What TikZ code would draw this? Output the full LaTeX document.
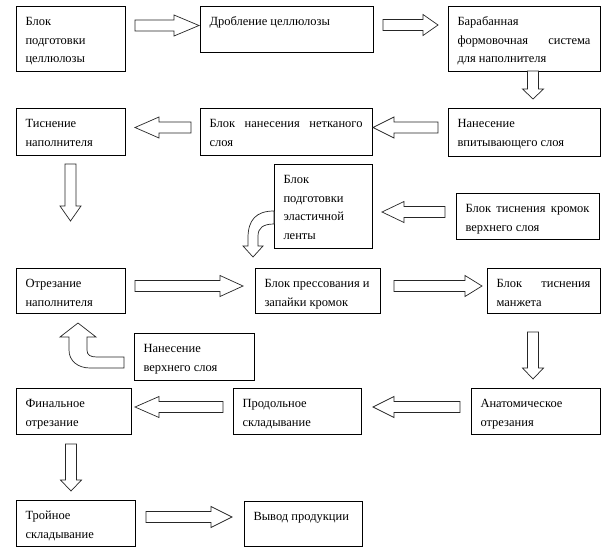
\documentclass[tikz,border=0pt]{standalone}
\usepackage{fontspec}
\setmainfont{Liberation Serif}
\usetikzlibrary{calc}
\tikzset{
  blk/.style={draw, line width=0.8pt, anchor=north west, inner xsep=9.5pt, inner ysep=7pt,
    outer sep=0pt, font=\fontsize{12.5}{18.5}\selectfont},
  arr/.style={draw=black!85, line width=0.7pt, fill=white, line join=miter},
}
\newcommand\blk[6]{\node[blk] (#1) at (#2,#3)
  {\parbox[c][\dimexpr#5pt-14pt\relax][t]{\dimexpr#4pt-19pt\relax}{\raggedright\strut #6}};}
\newcommand\blockarrow[3]{%
  \pgfpointdiff{\pgfpointanchor{#1}{center}}{\pgfpointanchor{#2}{center}}%
  \pgfgetlastxy{\bax}{\bay}%
  \pgfmathsetmacro\barlen{veclen(\bax,\bay)}%
  \pgfmathsetmacro\barang{atan2(\bay,\bax)}%
  \begin{scope}[shift={(#1)},rotate=\barang]
    \draw[arr] (0,5.5) -- ({\barlen-#3},5.5) -- ({\barlen-#3},10.5) -- (\barlen,0)
      -- ({\barlen-#3},-10.5) -- ({\barlen-#3},-5.5) -- (0,-5.5) -- cycle;
  \end{scope}}
\begin{document}
\begin{tikzpicture}[x=1pt,y=-1pt]
\useasboundingbox[fill=white] (0,0) rectangle (612,557);
% boxes
\blk{b1}{16}{6}{109}{65}{Блок\\подготовки\\целлюлозы}
\blk{b2}{200}{6}{173}{46}{Дробление~целлюлозы}
\blk{b3}{448}{6}{152}{65}{Барабанная\\формовочная\hfill система\\для~наполнителя}
\blk{b4}{16}{108}{109}{47}{Тиснение\\наполнителя}
\blk{b5}{200}{108}{172}{47}{Блок\hfill нанесения\hfill нетканого\\слоя}
\blk{b6}{448}{108}{152}{48}{Нанесение\\впитывающего~слоя}
\blk{b7}{274}{164}{98}{84}{Блок\\подготовки\\эластичной\\ленты}
\blk{b8}{456}{193}{143}{46}{Блок\hfill тиснения\hfill кромок\\верхнего~слоя}
\blk{b9}{16}{268}{109}{45}{Отрезание\\наполнителя}
\blk{b10}{255}{268}{125}{45}{Блок~прессования~и\\запайки~кромок}
\blk{b11}{487}{268}{113}{45}{Блок\hfill тиснения\\манжета}
\blk{b12}{134}{333}{120}{47}{Нанесение\\верхнего~слоя}
\blk{b13}{16}{388}{115}{46}{Финальное\\отрезание}
\blk{b14}{233}{388}{128}{46}{Продольное\\складывание}
\blk{b15}{471}{388}{129}{46}{Анатомическое\\отрезания}
\blk{b16}{16}{500}{119}{46}{Тройное\\складывание}
\blk{b17}{244}{501}{118}{45}{Вывод~продукции}
% arrow end points
\coordinate (a1s) at (135,25.5);  \coordinate (a1e) at (199,25.5);
\coordinate (a2s) at (383,25);    \coordinate (a2e) at (438,25);
\coordinate (a3s) at (533,71);    \coordinate (a3e) at (533,99);
\coordinate (a4s) at (191,127.5); \coordinate (a4e) at (135,127.5);
\coordinate (a5s) at (438,127.5); \coordinate (a5e) at (373,127.5);
\coordinate (a6s) at (70.5,164);  \coordinate (a6e) at (70.5,221);
\coordinate (a7s) at (445,212);   \coordinate (a7e) at (382,212);
\coordinate (a8s) at (135,286);   \coordinate (a8e) at (243,286);
\coordinate (a9s) at (394,286);   \coordinate (a9e) at (482,286);
\coordinate (a10s) at (533,332);  \coordinate (a10e) at (533,379);
\coordinate (a11s) at (223,407);  \coordinate (a11e) at (135,407);
\coordinate (a12s) at (460,407);  \coordinate (a12e) at (373,407);
\coordinate (a13s) at (71,444);   \coordinate (a13e) at (71,491);
\coordinate (a14s) at (146,517);  \coordinate (a14e) at (232,517);
\blockarrow{a1s}{a1e}{25}
\blockarrow{a2s}{a2e}{15}
\blockarrow{a3s}{a3e}{10}
\blockarrow{a4s}{a4e}{24}
\blockarrow{a5s}{a5e}{21}
\blockarrow{a6s}{a6e}{15}
\blockarrow{a7s}{a7e}{22}
\blockarrow{a8s}{a8e}{23}
\blockarrow{a9s}{a9e}{17}
\blockarrow{a10s}{a10e}{11}
\blockarrow{a11s}{a11e}{24}
\blockarrow{a12s}{a12e}{21}
\blockarrow{a13s}{a13e}{11}
\blockarrow{a14s}{a14e}{21}
% curved arrows
\draw[arr] ($(b7.north west)+(0,47)$) .. controls (256,211) and (248,220) .. (248,238)
  -- (248,246) -- (243,246) -- (253,257) -- (263,246) -- (258,246) -- (258,236)
  .. controls (258,228) and (263,224) .. ($(b7.north west)+(0,60)$) -- cycle;
\draw[arr] ($(b12.north west)+(-10,24)$) -- (97,357) .. controls (90,357) and (87,355) .. (87,350)
  -- (87,337) -- (96,337) -- (78,323) -- (60,337) -- (69,337) -- (69,350)
  .. controls (69,361) and (78,368) .. (90,368) -- ($(b12.north west)+(-10,35)$) -- cycle;
\end{tikzpicture}
\end{document}
